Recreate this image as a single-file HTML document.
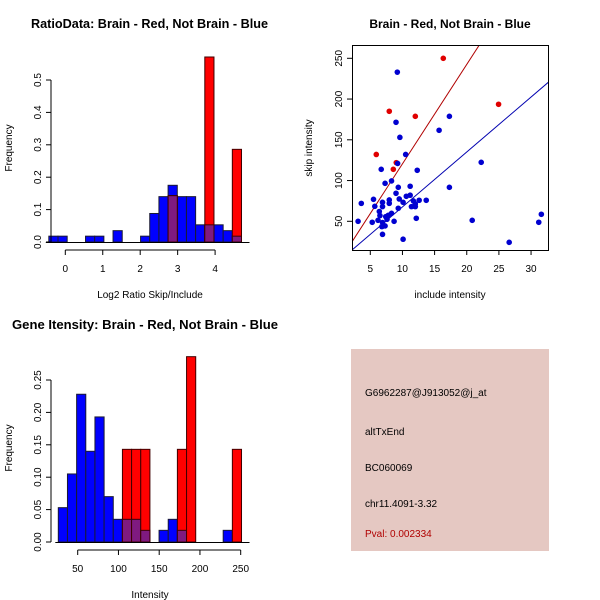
<!DOCTYPE html>
<html><head><meta charset="utf-8"><style>
body{margin:0;background:#fff}
svg{display:block;font-family:"Liberation Sans",sans-serif}
</style></head><body>
<svg id="c" width="600" height="600" viewBox="0 0 600 600">
<text x="31" y="28" font-size="12.5" font-weight="bold" textLength="237" lengthAdjust="spacingAndGlyphs">RatioData: Brain - Red, Not Brain - Blue</text>
<text x="450" y="28" font-size="12" font-weight="bold" text-anchor="middle">Brain - Red, Not Brain - Blue</text>
<text x="12" y="329" font-size="12.5" font-weight="bold" textLength="266" lengthAdjust="spacingAndGlyphs">Gene Itensity: Brain - Red, Not Brain - Blue</text>
<text x="150" y="298" font-size="10" text-anchor="middle">Log2 Ratio Skip/Include</text>
<text x="450" y="298" font-size="10" text-anchor="middle">include intensity</text>
<text x="150" y="598" font-size="10" text-anchor="middle">Intensity</text>
<text transform="translate(12,148) rotate(-90)" font-size="10" text-anchor="middle">Frequency</text>
<text transform="translate(312,148) rotate(-90)" font-size="10" text-anchor="middle">skip intensity</text>
<text transform="translate(12,448) rotate(-90)" font-size="10" text-anchor="middle">Frequency</text>
<rect x="351" y="349" width="198" height="202" fill="#E5C8C2"/>
<text x="365" y="396" font-size="10">G6962287@J913052@j_at</text>
<text x="365" y="435" font-size="10">altTxEnd</text>
<text x="365" y="471" font-size="10">BC060069</text>
<text x="365" y="507" font-size="10">chr11.4091-3.32</text>
<text x="365" y="537" font-size="10" fill="#B00000">Pval: 0.002334</text>
<g id="g1"></g><g id="g2"></g><g id="g3"></g>
</svg>
<script>
// Ratio histogram data
const ratioBinStart = -0.44, ratioBinWidth = 0.245;
const ratioBlue = [0.018,0.018,0,0,0.018,0.018,0,0.035,0,0,0.018,0.088,0.14,0.175,0.14,0.14,0.053,0.053,0.053,0.035,0.018];
const ratioRed  = [0,0,0,0,0,0,0,0,0,0,0,0,0,0.143,0,0,0,0.571,0,0,0.286];
const ratioXTicks = [0,1,2,3,4];
const ratioYTicks = ["0.0","0.1","0.2","0.3","0.4","0.5"];
// Intensity histogram data
const intBinStart = 26.2, intBinWidth = 11.24;
const intBlue = [0.053,0.105,0.228,0.14,0.193,0.07,0.035,0.035,0.035,0.018,0,0.018,0.035,0.018,0,0,0,0,0.018,0];
const intRed  = [0,0,0,0,0,0,0,0.143,0.143,0.143,0,0,0,0.143,0.286,0,0,0,0,0.143];
const intXTicks = [50,100,150,200,250];
const intYTicks = ["0.00","0.05","0.10","0.15","0.20","0.25"];
// Scatter data
const redX = [16.35,7.95,12.0,5.93,8.58,24.95,9.04];
const redY = [250,185,178.8,132,113.8,193.6,122];
const blueX = [9.2,9.0,9.6,10.5,9.25,15.7,17.3,22.25,6.7,12.3,7.3,8.3,17.3,9.35,11.2,9.0,3.6,5.5,6.9,6.9,5.7,7.95,7.95,9.5,10.1,10.6,11.2,11.7,12.0,12.6,13.7,9.35,11.4,12.0,6.4,6.5,7.4,7.8,8.3,7.6,6.2,5.3,3.1,8.7,12.15,6.8,7.3,6.9,6.9,10.1,20.85,26.6,31.2,31.6];
const blueY = [233,171.5,153,132,121,161.7,178.8,122.4,113.8,112.6,96.6,99.5,91.7,91.7,93,84.4,72,77,73.3,68,68.4,76.2,72,77.4,73.3,80.7,82,75,71.3,75.8,75.8,66,68,68,62,57,55.7,57.4,59.8,52.5,51.2,48.8,50,50,53.7,43.5,44.3,48.4,34,28,51.2,24.2,48.8,58.6];
const redSlope = 12.2, redIntercept = -1.5, blueSlope = 6.74, blueIntercept = 0.25;
const scXTicks = [5,10,15,20,25,30];
const scYTicks = [50,100,150,200,250];

const NS = "http://www.w3.org/2000/svg";
function mk(parent, tag, attrs){const e=document.createElementNS(NS,tag);for(const k in attrs)e.setAttribute(k,attrs[k]);parent.appendChild(e);return e;}

function hist(g, opt){
  const {bStart,bW,blue,red,xT,yT,xs,ys,axisY,yAxisX,prefix} = opt;
  blue.forEach((v,i)=>{ if(v<=0) return;
    const x1=xs(bStart+i*bW), x2=xs(bStart+(i+1)*bW);
    const r=mk(g,'rect',{x:x1,y:ys(v),width:x2-x1,height:ys(0)-ys(v),fill:'#0000FF',stroke:'#1a1a33','stroke-width':1});
    
    
  });
  red.forEach((v,i)=>{ if(v<=0) return;
    const x1=xs(bStart+i*bW), x2=xs(bStart+(i+1)*bW);
    const r=mk(g,'rect',{x:x1,y:ys(v),width:x2-x1,height:ys(0)-ys(v),fill:'#FF0000',stroke:'#400000','stroke-width':1});
    
    
    const m=Math.min(v,blue[i]);
    if(m>0){
      const o=mk(g,'rect',{x:x1,y:ys(m),width:x2-x1,height:ys(0)-ys(m),fill:'#7F1A80',stroke:'#400000','stroke-width':1});
      
      
    }
  });
  const x0=xs(bStart), xe=xs(bStart+blue.length*bW);
  mk(g,'line',{x1:x0-3,x2:xe+8,y1:ys(0)+0.5,y2:ys(0)+0.5,stroke:'#000'});
  const yv=yT.map(Number);
  mk(g,'line',{x1:yAxisX,x2:yAxisX,y1:ys(yv[0]),y2:ys(yv[yv.length-1]),stroke:'#000'});
  yT.forEach(t=>{const y=ys(+t);
    mk(g,'line',{x1:yAxisX-5,x2:yAxisX,y1:y,y2:y,stroke:'#000'});
    const tx=mk(g,'text',{transform:`translate(${yAxisX-10},${y}) rotate(-90)`,'font-size':10,'text-anchor':'middle'});tx.textContent=t;
    
    
  });
  mk(g,'line',{x1:xs(xT[0]),x2:xs(xT[xT.length-1]),y1:axisY,y2:axisY,stroke:'#000'});
  xT.forEach(t=>{const x=xs(t);
    mk(g,'line',{x1:x,x2:x,y1:axisY,y2:axisY+5,stroke:'#000'});
    const tx=mk(g,'text',{x:x,y:axisY+22,'font-size':10,'text-anchor':'middle'});tx.textContent=t;
    
    
  });
}

hist(document.getElementById('g1'),{bStart:ratioBinStart,bW:ratioBinWidth,blue:ratioBlue,red:ratioRed,xT:ratioXTicks,yT:ratioYTicks,
  xs:v=>65.3+v*37.45, ys:v=>242-v*324, axisY:250, yAxisX:51, prefix:'ratio'});
hist(document.getElementById('g3'),{bStart:intBinStart,bW:intBinWidth,blue:intBlue,red:intRed,xT:intXTicks,yT:intYTicks,
  xs:v=>77.7+(v-50)*0.815, ys:v=>542-v*648, axisY:550, yAxisX:51, prefix:'intensity'});

(function(){
  const g=document.getElementById('g2');
  const L=352,R=548,T=45,B=250;
  const xs=v=>370.3+(v-5)*6.43, ys=v=>221.3-(v-50)*0.815;
  mk(g,'defs',{}).innerHTML='<clipPath id="clp"><rect x="352" y="45" width="196" height="205"/></clipPath>';
  const cg=mk(g,'g',{'clip-path':'url(#clp)'});
  const x1=0,x2=40;
  const rl=mk(cg,'line',{x1:xs(x1),y1:ys(redSlope*x1+redIntercept),x2:xs(x2),y2:ys(redSlope*x2+redIntercept),stroke:'#B00000'});
  
  
  const bl=mk(cg,'line',{x1:xs(x1),y1:ys(blueSlope*x1+blueIntercept),x2:xs(x2),y2:ys(blueSlope*x2+blueIntercept),stroke:'#0000B0'});
  
  
  redX.forEach((x,i)=>{const c=mk(cg,'circle',{cx:xs(x),cy:ys(redY[i]),r:2.8,fill:'#E00000'});
    
    });
  blueX.forEach((x,i)=>{const c=mk(cg,'circle',{cx:xs(x),cy:ys(blueY[i]),r:2.8,fill:'#0000D0'});
    
    });
  mk(g,'rect',{x:L+0.5,y:T+0.5,width:R-L,height:B-T,fill:'none',stroke:'#000'});
  scXTicks.forEach(t=>{const x=xs(t);
    mk(g,'line',{x1:x,x2:x,y1:B,y2:B+5,stroke:'#000'});
    const tx=mk(g,'text',{x:x,y:B+22,'font-size':10,'text-anchor':'middle'});tx.textContent=t;
    
    });
  scYTicks.forEach(t=>{const y=ys(t);
    mk(g,'line',{x1:L-5,x2:L,y1:y,y2:y,stroke:'#000'});
    const tx=mk(g,'text',{transform:`translate(${L-10},${y}) rotate(-90)`,'font-size':10,'text-anchor':'middle'});tx.textContent=t;
    
    });
})();
</script>
</body></html>
